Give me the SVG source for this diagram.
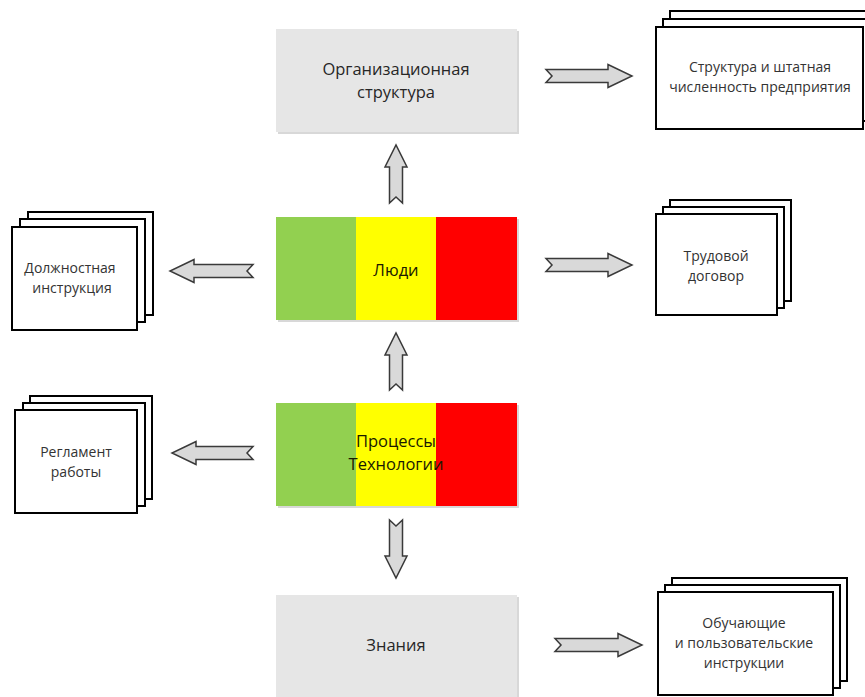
<svg xmlns="http://www.w3.org/2000/svg" width="865" height="697" viewBox="0 0 865 697">
<defs>
<style>
.main{font-family:"Open Sans","Liberation Sans",sans-serif;font-size:16.5px;fill:#262626;text-anchor:middle}
.doc{font-family:"Open Sans","Liberation Sans",sans-serif;font-size:14px;fill:#333;text-anchor:middle}
.page{fill:#fff;stroke:#000;stroke-width:2}
.arr{fill:#d9d9d9;stroke:#3a3a3a;stroke-width:1.5;stroke-linejoin:miter}
.sh{fill:#d8d8d8}
.gray{fill:#e6e6e6}
.g{fill:#92d050}.y{fill:#ffff00}.r{fill:#ff0000}
</style>
</defs>
<rect width="865" height="697" fill="#fff"/>

<g id="org">
<rect class="sh" x="278" y="31" width="241" height="103"/>
<rect class="gray" x="276" y="29" width="241" height="103"/>
<text class="main" x="396" y="75">Организационная</text>
<text class="main" x="396" y="98">структура</text>
</g>

<g id="people">
<rect class="sh" x="278" y="219" width="241" height="103"/>
<rect class="g" x="276" y="217" width="80" height="103"/>
<rect class="y" x="356" y="217" width="80" height="103"/>
<rect class="r" x="436" y="217" width="81" height="103"/>
<text class="main" x="396" y="276" style="fill:#1a1a00">Люди</text>
</g>

<g id="processes">
<rect class="sh" x="278" y="405" width="241" height="103"/>
<rect class="g" x="276" y="403" width="80" height="103"/>
<rect class="y" x="356" y="403" width="80" height="103"/>
<rect class="r" x="436" y="403" width="81" height="103"/>
<text class="main" x="396" y="447" style="fill:#1a1a00">Процессы</text>
<text class="main" x="396" y="470" style="fill:#1a1a00">Технологии</text>
</g>

<g id="knowledge">
<rect class="sh" x="278" y="597" width="241" height="102"/>
<rect class="gray" x="276" y="595" width="241" height="104"/>
<text class="main" x="396" y="651">Знания</text>
</g>

<g id="structure">
<rect class="page" x="670" y="11" width="207" height="102"/>
<rect class="page" x="663" y="19" width="207" height="102"/>
<rect class="page" x="656" y="27" width="207" height="102"/>
<text class="doc" x="760" y="72">Структура и штатная</text>
<text class="doc" x="760" y="92">численность предприятия</text>
</g>

<g id="contract">
<rect class="page" x="670" y="200" width="121" height="101"/>
<rect class="page" x="663" y="207" width="121" height="101"/>
<rect class="page" x="656" y="214" width="121" height="101"/>
<text class="doc" x="716" y="261">Трудовой</text>
<text class="doc" x="716" y="281">договор</text>
</g>

<g id="job">
<rect class="page" x="28" y="212" width="125" height="103"/>
<rect class="page" x="20" y="219" width="125" height="103"/>
<rect class="page" x="12" y="227" width="125" height="103"/>
<text class="doc" x="70" y="273">Должностная</text>
<text class="doc" x="72" y="293">инструкция</text>
</g>

<g id="reglament">
<rect class="page" x="30" y="396" width="122" height="103"/>
<rect class="page" x="23" y="403" width="122" height="103"/>
<rect class="page" x="15" y="410" width="122" height="103"/>
<text class="doc" x="76" y="457">Регламент</text>
<text class="doc" x="76" y="477">работы</text>
</g>

<g id="manuals">
<rect class="page" x="672" y="578" width="175" height="103"/>
<rect class="page" x="665" y="585" width="175" height="103"/>
<rect class="page" x="658" y="592" width="175" height="103"/>
<text class="doc" x="744" y="628">Обучающие</text>
<text class="doc" x="744" y="648">и пользовательские</text>
<text class="doc" x="744" y="668">инструкции</text>
</g>

<g id="connectors">
<path class="arr" d="M546,69.5 L608,69.5 L608,64.5 L632,76 L608,87.5 L608,82.5 L546,82.5 L552,76 Z"/>
<path class="arr" d="M546,258.5 L608,258.5 L608,253.5 L632,265 L608,276.5 L608,271.5 L546,271.5 L552,265 Z"/>
<path class="arr" d="M555,638.5 L618,638.5 L618,633.5 L642,645 L618,656.5 L618,651.5 L555,651.5 L561,645 Z"/>
<path class="arr" d="M253,264.5 L194,264.5 L194,259.5 L170,271 L194,282.5 L194,277.5 L253,277.5 L247,271 Z"/>
<path class="arr" d="M253,446.5 L196,446.5 L196,441.5 L172,453 L196,464.5 L196,459.5 L253,459.5 L247,453 Z"/>
<path class="arr" d="M389.5,203 L389.5,167 L385,167 L396,145 L407,167 L402.5,167 L402.5,203 L396,197 Z"/>
<path class="arr" d="M389.5,390 L389.5,355 L385,355 L396,333 L407,355 L402.5,355 L402.5,390 L396,384 Z"/>
<path class="arr" d="M389.5,520 L389.5,556 L385,556 L396,578 L407,556 L402.5,556 L402.5,520 L396,526 Z"/>
</g>
</svg>
